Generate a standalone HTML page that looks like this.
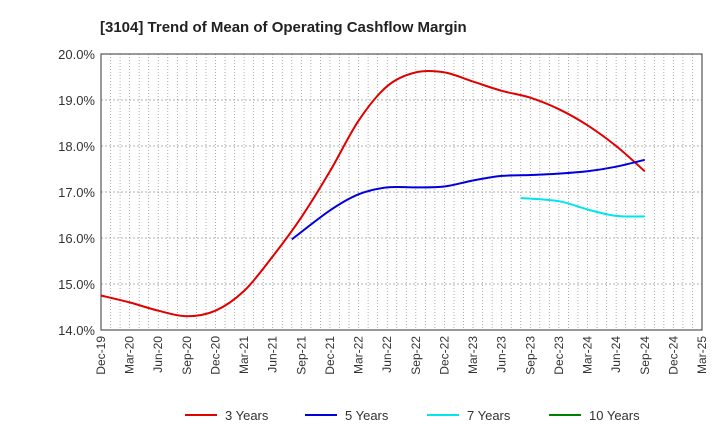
<!DOCTYPE html>
<html><head><meta charset="utf-8"><style>
body{margin:0;background:#fff;font-family:"Liberation Sans",sans-serif;}
</style></head><body>
<svg width="720" height="440" xmlns="http://www.w3.org/2000/svg">
<text x="100" y="32" font-size="15" font-weight="bold" fill="#222">[3104]  Trend of Mean of Operating Cashflow Margin</text>
<g id="grid"></g><g id="axes"></g><g id="series"></g><g id="legend"></g>
</svg>
<script>
const xLabels=["Dec-19","Mar-20","Jun-20","Sep-20","Dec-20","Mar-21","Jun-21","Sep-21","Dec-21","Mar-22","Jun-22","Sep-22","Dec-22","Mar-23","Jun-23","Sep-23","Dec-23","Mar-24","Jun-24","Sep-24","Dec-24","Mar-25"];
const yTicks=[14,15,16,17,18,19,20];
const months3=[0,3,6,9,12,15,18,21,24,27,30,33,36,39,42,45,48,51,54,57];
const vals3=[14.75,14.6,14.42,14.3,14.42,14.85,15.6,16.45,17.45,18.55,19.3,19.6,19.6,19.4,19.2,19.05,18.8,18.45,18.0,17.45];
const months5=[20,24,27,30,33,36,39,42,45,48,51,54,57];
const vals5=[15.97,16.6,16.95,17.1,17.1,17.12,17.25,17.35,17.37,17.4,17.45,17.55,17.7];
const months7=[44,48,51,54,57];
const vals7=[16.87,16.8,16.62,16.48,16.47];
const months10=[];const vals10=[];
const L=101,R=702,T=54,B=330,NM=63;
const xs=m=>L+m*(R-L)/NM, ys=v=>B-(v-14)*(B-T)/6;
const NS="http://www.w3.org/2000/svg";
function mk(tag,a,parent){const e=document.createElementNS(NS,tag);for(const k in a)e.setAttribute(k,a[k]);document.getElementById(parent).appendChild(e);return e;}
for(let m=1;m<NM;m++){const e=mk('line',{x1:xs(m),x2:xs(m),y1:T,y2:B,stroke:'#999','stroke-dasharray':'1,2','stroke-width':0.8},'grid');

}
yTicks.forEach(v=>{if(v>14&&v<20){const e=mk('line',{x1:L,x2:R,y1:ys(v),y2:ys(v),stroke:'#999','stroke-dasharray':'2,2','stroke-width':0.8},'grid');

}
const t=mk('text',{x:L-6,y:ys(v)+5,'text-anchor':'end','font-size':13,fill:'#333'},'axes');t.textContent=v.toFixed(1)+'%';

});
const fr=mk('rect',{x:L,y:T,width:R-L,height:B-T,fill:'none',stroke:'#333','stroke-width':1},'axes');


xLabels.forEach((s,i)=>{const x=xs(i*3);const t=mk('text',{x:x+4,y:B+6,'text-anchor':'end','font-size':12,fill:'#333',transform:`rotate(-90 ${x+4} ${B+6})`},'axes');t.textContent=s;

});
function path(ms,vs){const p=ms.map((m,i)=>[xs(m),ys(vs[i])]);if(p.length<2)return'';let d=`M${p[0][0]},${p[0][1]}`;
for(let i=0;i<p.length-1;i++){const p0=p[i-1]||p[i],p1=p[i],p2=p[i+1],p3=p[i+2]||p2;
d+=`C${p1[0]+(p2[0]-p0[0])/6},${p1[1]+(p2[1]-p0[1])/6} ${p2[0]-(p3[0]-p1[0])/6},${p2[1]-(p3[1]-p1[1])/6} ${p2[0]},${p2[1]}`;}return d;}
[[months3,vals3,'#e00000','series-3-years'],[months5,vals5,'#0000dd','series-5-years'],[months7,vals7,'#00e5ee','series-7-years'],[months10,vals10,'#008000','series-10-years']].forEach(s=>{
if(s[0].length<2)return;const e=mk('path',{d:path(s[0],s[1]),fill:'none',stroke:s[2],'stroke-width':2},'series');

});
[['3 Years','#e00000',185],['5 Years','#0000dd',305],['7 Years','#00e5ee',427],['10 Years','#008000',549]].forEach(l=>{
const ln=mk('line',{x1:l[2],x2:l[2]+32,y1:415,y2:415,stroke:l[1],'stroke-width':2},'legend');


const t=mk('text',{x:l[2]+40,y:420,'font-size':13,fill:'#333'},'legend');t.textContent=l[0];

});
</script>
</body></html>
